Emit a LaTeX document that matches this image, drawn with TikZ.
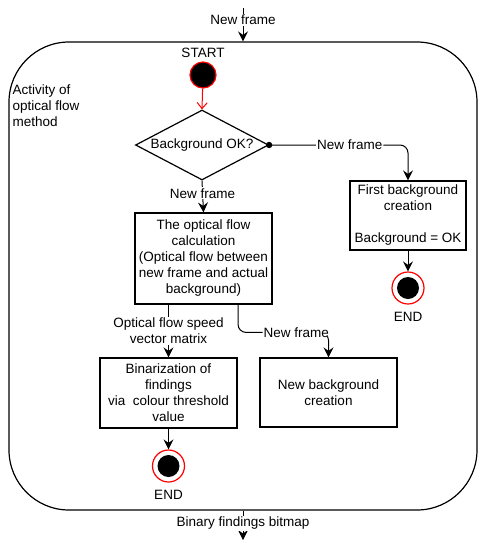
\documentclass[tikz,border=0pt]{standalone}
\usepackage{fontspec}
\setmainfont{Liberation Sans}
\usetikzlibrary{positioning,shapes.geometric,arrows.meta,calc}
\begin{document}
\begin{tikzpicture}[
    x=1pt, y=-1pt,
    >={Stealth[length=10pt,width=10pt,inset=3.5pt]},
    font=\fontsize{13.5}{16}\selectfont,
    frame/.style={
        draw,
        line width=1.2pt,
        rounded corners=60pt,
        minimum width=468pt,
        minimum height=468pt
    },
    box/.style={
        draw,
        line width=1.2pt,
        align=center,
        inner sep=2pt
    },
    decide/.style={
        draw,
        line width=1.2pt,
        diamond,
        aspect=1.9,
        inner sep=0pt,
        minimum width=133pt,
        minimum height=70pt
    },
    startdot/.style={
        circle,
        draw=red,
        fill=black,
        line width=1.2pt,
        minimum size=26pt,
        inner sep=0pt
    },
    enddot/.style={
        circle,
        draw=red,
        fill=white,
        line width=1.2pt,
        minimum size=32pt,
        inner sep=0pt,
        path picture={\fill[black] (path picture bounding box.center) circle (11pt);}
    },
    lbl/.style={fill=white, inner sep=1pt, align=center},
    arr/.style={->, line width=1pt},
    startarr/.style={-{Straight Barb[length=6pt,width=10pt]}, draw=red, line width=1pt}
]
\useasboundingbox (0,0) rectangle (485,550);

% activity frame
\node[frame] (activity) at (243,276) {};
\node[anchor=north west, align=left] (actname) at (9,81)
{Activity of\\optical flow\\method};

% start and decision
\node[startdot] (start) at (203,75) {};
\node[above=0pt of start] (startname) {START};
\node[decide] (bgok) at (202,145) {Background OK?};

% right branch
\node[box, minimum width=116pt, minimum height=69pt] (first) at (408,215.5)
{First background\\creation\\\mbox{}\\Background = OK};
\node[enddot] (end1) at (408,288) {};
\node[below=4pt of end1] (endname1) {END};

% main branch
\node[box, minimum width=137pt, minimum height=91pt] (flow) at (203.5,258.5)
{The optical flow\\calculation\\(Optical flow between\\new frame and actual\\background)};
\node[box, minimum width=137pt, minimum height=70pt] (binar) at (168.5,393)
{Binarization of\\findings\\via\ \ colour threshold\\value};
\node[box, minimum width=137pt, minimum height=69pt] (newbg) at (328.5,392.5)
{New background\\creation};
\node[enddot] (end2) at (168.5,466) {};
\node[below=4pt of end2] (endname2) {END};

% in / out
\coordinate (framein) at (243,8);
\coordinate (frameout) at (243,540);
\coordinate (flowright) at ($(flow.south west)!0.75!(flow.south east)$);
\coordinate (nfbend) at ($(newbg.north)+(0,-25)$);

\draw[arr] (framein) -- (activity.north) node[lbl, pos=0.35] {New frame};
\draw[startarr] (start) -- (bgok.north);
\fill (bgok.east) circle (3.2pt);
\draw[arr, rounded corners=8pt] (bgok.east) -| (first.north) node[lbl, pos=0.29] {New frame};
\draw[arr] (bgok.south) -- (flow.north) node[lbl, pos=0.4] {New frame};
\draw[arr] (flow.south -| binar.north) -- (binar.north) node[lbl, midway] {Optical flow speed\\vector matrix};
\draw[arr, rounded corners=8pt] (flowright) |- (nfbend) node[lbl, anchor=east, xshift=2pt] {New frame} -- (newbg.north);
\draw[arr] (first) -- (end1);
\draw[arr] (binar) -- (end2);
\draw[arr] (activity.south) -- (frameout) node[lbl, pos=0.43] {Binary findings bitmap};

\end{tikzpicture}
\end{document}
